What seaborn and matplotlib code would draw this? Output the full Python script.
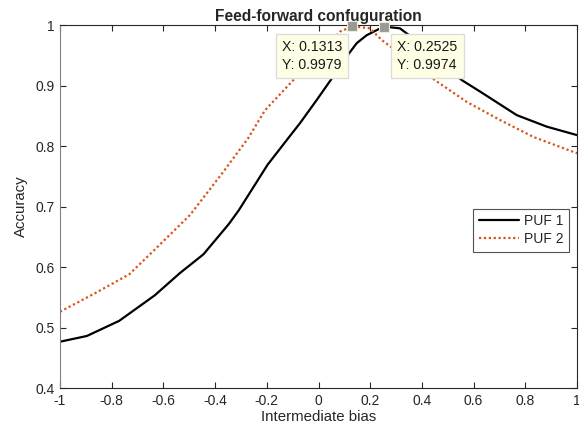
import matplotlib
matplotlib.use("Agg")
import matplotlib.pyplot as plt
import seaborn as sns
import pandas as pd

# Data
x_puf1 = [-1.0, -0.896, -0.771, -0.634, -0.536, -0.445, -0.347, -0.308, -0.197, -0.117, -0.072,
          -0.007, 0.057, 0.109, 0.148, 0.186, 0.2525, 0.315, 0.354, 0.45, 0.554, 0.625, 0.767, 0.883, 1.0]
y_puf1 = [0.4765, 0.486, 0.511, 0.553, 0.590, 0.621, 0.671, 0.694, 0.769, 0.813, 0.8375,
          0.876, 0.915, 0.948, 0.970, 0.983, 0.9974, 0.9945, 0.982, 0.945, 0.909, 0.890, 0.851, 0.832, 0.818]
x_puf2 = [-1.0, -0.863, -0.732, -0.628, -0.497, -0.367, -0.272, -0.207, -0.104, 0.0, 0.083, 0.1313,
          0.199, 0.245, 0.289, 0.45, 0.573, 0.702, 0.831, 1.0]
y_puf2 = [0.526, 0.557, 0.588, 0.631, 0.686, 0.758, 0.813, 0.859, 0.906, 0.950, 0.989, 0.9979,
          0.9945, 0.975, 0.961, 0.909, 0.873, 0.843, 0.815, 0.788]
series_names = ["PUF 1", "PUF 2"]
tip_x = [0.1313, 0.2525]
tip_y = [0.9979, 0.9974]
tip_labels = ["X: 0.1313\nY: 0.9979", "X: 0.2525\nY: 0.9974"]
x_ticks = [-1, -0.8, -0.6, -0.4, -0.2, 0, 0.2, 0.4, 0.6, 0.8, 1]
x_ticklabels = ["-1", "-0.8", "-0.6", "-0.4", "-0.2", "0", "0.2", "0.4", "0.6", "0.8", "1"]
y_ticks = [0.4, 0.5, 0.6, 0.7, 0.8, 0.9, 1.0]
y_ticklabels = ["0.4", "0.5", "0.6", "0.7", "0.8", "0.9", "1"]

sns.set_style("white")
plt.rcParams['font.family'] = ['Liberation Sans', 'DejaVu Sans']

fig = plt.figure(figsize=(5.79, 4.37), dpi=100)
ax = fig.add_axes([60/579, 1-388/437, 517/579, 363/437])

df1 = pd.DataFrame({"x": x_puf1, "y": y_puf1})
df2 = pd.DataFrame({"x": x_puf2, "y": y_puf2})
sns.lineplot(data=df1, x="x", y="y", ax=ax, color="black", lw=1.6, label=series_names[0])
sns.lineplot(data=df2, x="x", y="y", ax=ax, color="#D95319", lw=1.6, linestyle=(0, (1, 1.2)),
             label=series_names[1])

ax.set_xlim(-1, 1)
ax.set_ylim(0.4, 1.0)
ax.set_xticks(x_ticks)
ax.set_xticklabels(x_ticklabels)
ax.set_yticks(y_ticks)
ax.set_yticklabels(y_ticklabels)
ax.tick_params(direction="in", length=4, width=0.8, colors="#262626", labelsize=10,
               top=True, right=True, bottom=True, left=True, pad=4)
for s in ax.spines.values():
    s.set_visible(True)
    s.set_color("#262626")
    s.set_linewidth(0.8)
ax.spines['left'].set_color("#808080")
ax.set_xlabel("Intermediate bias", fontsize=10.8, color="#262626", labelpad=2)
ax.set_ylabel("Accuracy", fontsize=10.8, color="#262626", labelpad=5)
ax.set_title("Feed-forward confuguration", fontsize=11.2, fontweight="bold", pad=3)

leg = ax.legend(loc="lower left", bbox_to_anchor=(0.799, 0.375), fontsize=10, frameon=True,
                fancybox=False, handlelength=2.9, handletextpad=0.35, borderpad=0.4,
                labelspacing=0.3, borderaxespad=0)
leg.get_frame().set_edgecolor("#262626")
leg.get_frame().set_linewidth(0.8)

# data tips
ax.plot(tip_x, tip_y, ls="none", marker="s", ms=7.5, color="#999999", mec="#eeeecc", mew=0.8,
        clip_on=False, zorder=5)
for lx, lbl in zip([-0.143, 0.305], tip_labels):
    ax.text(lx, 0.976, lbl, fontsize=10.2, va="top", ha="left", linespacing=1.45,
            color="#1a1a1a",
            bbox=dict(boxstyle="square,pad=0.42", fc="#ffffe6", ec="#dcdcdc", lw=1.0), zorder=6)

fig.savefig("out.png", dpi=100)
